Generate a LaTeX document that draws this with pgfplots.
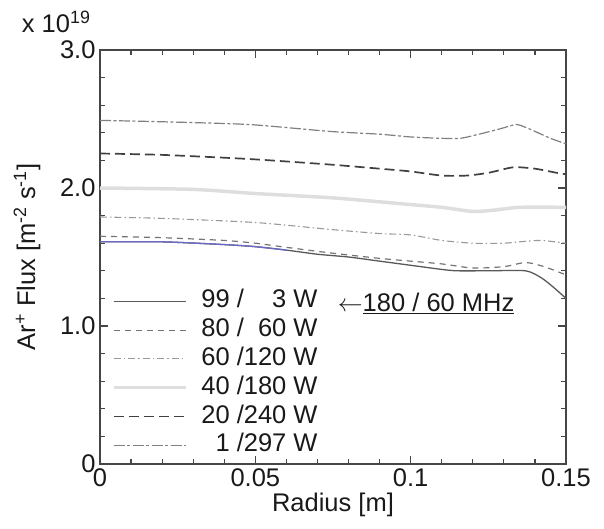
\documentclass[border=0pt]{standalone}
\usepackage{fontspec}
\setmainfont{Liberation Sans}
\usepackage{pgfplots}
\pgfplotsset{compat=1.18}
\definecolor{axgray}{RGB}{70,70,70}
\definecolor{txt}{RGB}{25,25,25}
\definecolor{bluish}{RGB}{105,105,200}
\newcommand{\fs}{\fontsize{25.5}{29}\selectfont}
\newcommand{\legtxt}[2]{\makebox[1.112em][r]{#1}\ /\makebox[1.668em][r]{#2}\ W}

\begin{document}
\begin{tikzpicture}
\useasboundingbox (-100pt,-64pt) rectangle (504pt,464pt);
\begin{axis}[
  at={(0,0)}, anchor=south west,
  scale only axis,
  width=466pt, height=414pt,
  xmin=0, xmax=0.15, ymin=0, ymax=3,
  xtick={0,0.05,0.1,0.15},
  xticklabels={0,0.05,0.1,0.15},
  ytick={0,1,2,3},
  yticklabels={0,1.0,2.0,3.0},
  minor x tick num=4,
  minor y tick num=4,
  xtick pos=both, ytick pos=both,
  xticklabel pos=bottom, yticklabel pos=left,
  tick align=inside,
  major tick length=8pt, minor tick length=5pt,
  every tick/.style={axgray, line width=1.2pt},
  axis line style={axgray, line width=1.6pt},
  /pgf/number format/assume math mode=true,
  tick label style={font=\fs, text=txt},
  xticklabel style={yshift=-1pt},
  yticklabel style={xshift=-1pt},
  label style={font=\fs, text=txt},
  xlabel={Radius [m]},
  xlabel style={at={(rel axis cs:0.5,-0.099)}, anchor=center},
  ylabel={Ar\textsuperscript{+} Flux [m\textsuperscript{-2} s\textsuperscript{-1}]},
  ylabel style={at={(rel axis cs:-0.1567,0.5)}, anchor=center},
  clip=false,
  legend cell align=left,
  legend image code/.code={\draw[#1] (0pt,0pt) -- (72pt,0pt);},
  legend style={at={(rel axis cs:0.025,0.42)}, anchor=north west,
    draw=none, fill=none, inner sep=0pt, row sep=6.8pt,
    font=\fs, text=txt,
    nodes={inner sep=0pt, text height=17.5pt, text depth=4.5pt},
    /tikz/every odd column/.append style={column sep=14pt}},
]

% 99 / 3 W
\addplot[color=black!65, line width=1.3pt, smooth, tension=0.4] coordinates {
  (0,1.61) (0.02,1.61) (0.04,1.59) (0.05,1.575) (0.06,1.55) (0.07,1.52)
  (0.08,1.50) (0.09,1.47) (0.10,1.44) (0.11,1.41) (0.115,1.40)
  (0.125,1.40) (0.137,1.40) (0.142,1.35) (0.146,1.28) (0.15,1.20)
};
\addlegendentry{\legtxt{99}{3}}

% 80 / 60 W
\addplot[color=black!55, line width=1.2pt, dash pattern=on 6pt off 5pt, smooth, tension=0.4] coordinates {
  (0,1.65) (0.02,1.64) (0.04,1.62) (0.05,1.60) (0.06,1.57) (0.074,1.53)
  (0.09,1.49) (0.10,1.47) (0.11,1.45) (0.12,1.42) (0.13,1.43)
  (0.137,1.46) (0.143,1.43) (0.15,1.37)
};
\addlegendentry{\legtxt{80}{60}}

% 60 / 120 W
\addplot[color=black!40, line width=1.1pt, dash pattern=on 7pt off 3pt on 1.5pt off 3pt, smooth, tension=0.4] coordinates {
  (0,1.79) (0.02,1.78) (0.05,1.75) (0.074,1.70) (0.09,1.67) (0.10,1.66)
  (0.11,1.62) (0.12,1.60) (0.13,1.60) (0.135,1.61) (0.142,1.62) (0.15,1.60)
};
\addlegendentry{\legtxt{60}{120}}

% 40 / 180 W
\addplot[color=black!13, line width=3.5pt, smooth, tension=0.4] coordinates {
  (0,2.00) (0.03,1.99) (0.05,1.96) (0.074,1.93) (0.09,1.90) (0.10,1.88)
  (0.11,1.86) (0.12,1.83) (0.127,1.84) (0.135,1.86) (0.15,1.86)
};
\addlegendentry{\legtxt{40}{180}}

% 20 / 240 W
\addplot[color=black!75, line width=1.7pt, dash pattern=on 10pt off 5pt, smooth, tension=0.4] coordinates {
  (0,2.25) (0.02,2.24) (0.048,2.21) (0.074,2.17) (0.09,2.14) (0.10,2.12)
  (0.11,2.09) (0.118,2.09) (0.125,2.11) (0.133,2.15) (0.14,2.14)
  (0.147,2.11) (0.15,2.10)
};
\addlegendentry{\legtxt{20}{240}}

% 1 / 297 W
\addplot[color=black!50, line width=1.2pt, dash pattern=on 11pt off 2.5pt on 3pt off 2.5pt, smooth, tension=0.4] coordinates {
  (0,2.49) (0.02,2.48) (0.048,2.46) (0.074,2.41) (0.09,2.39) (0.10,2.37)
  (0.11,2.36) (0.116,2.36) (0.122,2.39) (0.129,2.43) (0.134,2.46)
  (0.138,2.43) (0.145,2.36) (0.15,2.32)
};
\addlegendentry{\legtxt{1}{297}}

% blue tint over the first part of the 99 / 3 W curve
\addplot[forget plot, color=bluish, line width=1.3pt, smooth, tension=0.4] coordinates {
  (0,1.61) (0.02,1.61) (0.04,1.59) (0.05,1.575) (0.06,1.55)
};

\node[anchor=center, font=\fs, text=txt] at (rel axis cs:-0.094,1.068) {x 10\textsuperscript{19}};
\node[anchor=west, font=\fs, text=txt, inner sep=0pt] at (axis cs:0.0765,1.164)
  {$\leftarrow$\underline{180 / 60 MHz}};
\end{axis}
\end{tikzpicture}
\end{document}
